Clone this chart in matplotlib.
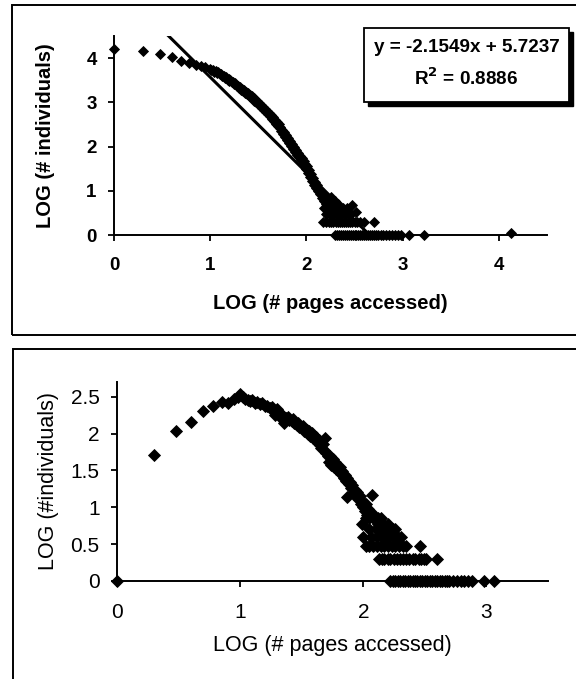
import matplotlib.pyplot as plt
from matplotlib.patches import Rectangle

# Top panel: LOG(# individuals) vs LOG(# pages accessed)
top_x = [0.00, 0.30, 0.48, 0.60, 0.70, 0.78, 0.85, 0.90, 0.95,
         1.00, 1.01, 1.03, 1.04, 1.06, 1.07, 1.08, 1.10, 1.11, 1.12, 1.14, 1.15, 1.16, 1.18, 1.19,
         1.20, 1.21, 1.23, 1.24, 1.25, 1.26, 1.28, 1.29, 1.30, 1.31, 1.32, 1.33, 1.34, 1.35, 1.36,
         1.37, 1.38, 1.39, 1.40, 1.41, 1.42, 1.43, 1.44, 1.45, 1.46, 1.47, 1.48, 1.49, 1.50, 1.51,
         1.52, 1.53, 1.54, 1.55, 1.56, 1.57, 1.58, 1.59, 1.60, 1.61, 1.62, 1.63, 1.64, 1.65, 1.66,
         1.67, 1.68, 1.69, 1.70, 1.71, 1.72, 1.73, 1.74, 1.75, 1.76, 1.77, 1.78, 1.79, 1.80, 1.81,
         1.82, 1.83, 1.84, 1.85, 1.86, 1.87, 1.88, 1.89, 1.90, 1.91, 1.92, 1.93, 1.94, 1.95, 1.96,
         1.97, 1.98, 1.99, 2.00, 2.01, 2.02, 2.03, 2.04, 2.05, 2.06, 2.07, 2.08, 2.09, 2.10, 2.11,
         2.12, 2.13, 2.14, 2.15, 2.16, 2.17, 2.18, 2.19, 2.20,
         2.18, 2.20, 2.21, 2.22, 2.23, 2.24, 2.25, 2.26, 2.27, 2.28, 2.29, 2.30, 2.31, 2.32, 2.33,
         2.34, 2.35, 2.36, 2.38, 2.40, 2.42, 2.44, 2.46, 2.47, 2.52,
         2.17, 2.20, 2.23, 2.26, 2.28, 2.31, 2.33, 2.35, 2.37, 2.39, 2.41, 2.43, 2.45, 2.47, 2.50,
         2.53, 2.56, 2.60, 2.70,
         2.30, 2.32, 2.34, 2.36, 2.38, 2.40, 2.42, 2.44, 2.46, 2.48, 2.50, 2.52, 2.54, 2.56, 2.58,
         2.60, 2.62, 2.64, 2.66, 2.68, 2.70, 2.72, 2.74, 2.77, 2.80, 2.83, 2.86, 2.89, 2.92, 2.95,
         2.98, 3.07, 3.22, 4.13]
top_y = [4.20, 4.17, 4.10, 4.03, 3.93, 3.88, 3.85, 3.82, 3.79,
         3.76, 3.73, 3.72, 3.69, 3.70, 3.66, 3.68, 3.63, 3.65, 3.60, 3.59, 3.55, 3.57, 3.51, 3.53,
         3.48, 3.50, 3.45, 3.46, 3.41, 3.43, 3.37, 3.38, 3.33, 3.35, 3.29, 3.31, 3.25, 3.28, 3.22,
         3.24, 3.18, 3.21, 3.15, 3.17, 3.11, 3.14, 3.07, 3.10, 3.04, 3.06, 3.00, 3.03, 2.96, 2.98,
         2.92, 2.94, 2.87, 2.90, 2.83, 2.85, 2.78, 2.81, 2.73, 2.76, 2.69, 2.71, 2.63, 2.66, 2.58,
         2.61, 2.52, 2.55, 2.46, 2.50, 2.41, 2.44, 2.35, 2.38, 2.29, 2.32, 2.22, 2.26, 2.15, 2.19,
         2.08, 2.12, 2.01, 2.05, 1.94, 1.98, 1.88, 1.92, 1.82, 1.86, 1.76, 1.79, 1.70, 1.74, 1.63,
         1.67, 1.57, 1.61, 1.49, 1.55, 1.40, 1.46, 1.31, 1.38, 1.22, 1.29, 1.14, 1.20, 1.07, 1.12,
         1.00, 1.04, 0.92, 0.97, 0.84, 0.90, 0.77, 0.81, 0.70,
         0.60, 0.48, 0.78, 0.60, 0.70, 0.48, 0.85, 0.60, 0.70, 0.48, 0.60, 0.78, 0.48, 0.60, 0.70,
         0.48, 0.60, 0.48, 0.60, 0.48, 0.60, 0.48, 0.48, 0.67, 0.52,
         0.30, 0.30, 0.30, 0.30, 0.30, 0.30, 0.30, 0.30, 0.30, 0.30, 0.30, 0.30, 0.30, 0.30, 0.30,
         0.30, 0.30, 0.30, 0.30,
         0.00, 0.00, 0.00, 0.00, 0.00, 0.00, 0.00, 0.00, 0.00, 0.00, 0.00, 0.00, 0.00, 0.00, 0.00,
         0.00, 0.00, 0.00, 0.00, 0.00, 0.00, 0.00, 0.00, 0.00, 0.00, 0.00, 0.00, 0.00, 0.00, 0.00,
         0.00, 0.00, 0.00, 0.04]

trend_slope = -2.1549
trend_intercept = 5.7237
trend_r2 = 0.8886

# Bottom panel
bot_x = [0.00, 0.30, 0.48, 0.60, 0.70, 0.78, 0.85, 0.90, 0.95, 0.98, 1.00,
         1.02, 1.04, 1.06, 1.08, 1.10, 1.12, 1.14, 1.16, 1.18, 1.20, 1.22, 1.24, 1.26, 1.27, 1.28,
         1.30, 1.31, 1.33, 1.34, 1.35, 1.36, 1.37, 1.39, 1.40, 1.42, 1.43, 1.44, 1.46, 1.47, 1.48,
         1.50, 1.51, 1.52, 1.54, 1.55, 1.56, 1.57, 1.58, 1.59, 1.60, 1.61, 1.62, 1.63, 1.64, 1.65,
         1.66, 1.67, 1.68, 1.69, 1.70, 1.71, 1.72, 1.73, 1.74, 1.75, 1.76, 1.77, 1.78, 1.79, 1.80,
         1.81, 1.82, 1.83, 1.84, 1.85, 1.86, 1.87, 1.88, 1.89, 1.90, 1.91, 1.92, 1.87, 1.93, 1.94,
         1.95, 1.96, 1.97, 1.98, 1.99, 2.00, 2.01, 2.02, 2.03, 2.04, 2.05, 2.07, 2.06, 2.08, 2.10,
         2.12, 2.14, 2.16, 2.18, 2.20, 2.22, 2.24,
         2.02, 2.08, 2.12, 1.99,
         2.05, 2.10, 2.14, 2.19, 2.22, 2.26,
         2.00, 2.06, 2.11, 2.15, 2.18, 2.21, 2.25, 2.28, 2.31,
         2.02, 2.05, 2.08, 2.11, 2.14, 2.17, 2.20, 2.23, 2.26, 2.29, 2.32, 2.35, 2.46,
         2.13, 2.15, 2.17, 2.20, 2.22, 2.25, 2.27, 2.30, 2.32, 2.35, 2.37, 2.40, 2.42, 2.45, 2.47,
         2.49, 2.51, 2.60,
         2.22, 2.24, 2.26, 2.28, 2.30, 2.32, 2.34, 2.36, 2.38, 2.40, 2.42, 2.44, 2.46, 2.48, 2.50,
         2.52, 2.54, 2.56, 2.58, 2.60, 2.62, 2.64, 2.66, 2.68, 2.70, 2.73, 2.76, 2.79, 2.82, 2.85,
         2.88, 2.98, 3.06]
bot_y = [0.00, 1.71, 2.03, 2.16, 2.31, 2.38, 2.43, 2.41, 2.47, 2.50, 2.54,
         2.50, 2.47, 2.46, 2.44, 2.45, 2.42, 2.43, 2.40, 2.41, 2.38, 2.37, 2.35, 2.36, 2.32, 2.25,
         2.33, 2.29, 2.26, 2.20, 2.24, 2.15, 2.21, 2.22, 2.19, 2.17, 2.20, 2.14, 2.12, 2.15, 2.09,
         2.07, 2.10, 2.03, 2.05, 2.00, 2.04, 1.97, 2.01, 1.94, 1.97, 1.91, 1.95, 1.87, 1.91, 1.84,
         1.80, 1.86, 1.78, 1.94, 1.74, 1.69, 1.62, 1.70, 1.58, 1.66, 1.55, 1.62, 1.52, 1.57, 1.49,
         1.54, 1.45, 1.49, 1.40, 1.44, 1.36, 1.40, 1.31, 1.35, 1.26, 1.30, 1.20, 1.14, 1.24, 1.16,
         1.21, 1.11, 1.15, 1.05, 1.09, 1.00, 0.95, 1.04, 0.90, 0.98, 0.85, 1.17, 0.93, 0.90, 0.85,
         0.78, 0.85, 0.78, 0.70, 0.78, 0.70, 0.70,
         0.85, 0.85, 0.85, 0.78,
         0.70, 0.70, 0.70, 0.70, 0.70, 0.70,
         0.60, 0.60, 0.60, 0.60, 0.60, 0.60, 0.60, 0.60, 0.60,
         0.48, 0.48, 0.48, 0.48, 0.48, 0.48, 0.48, 0.48, 0.48, 0.48, 0.48, 0.48, 0.48,
         0.30, 0.30, 0.30, 0.30, 0.30, 0.30, 0.30, 0.30, 0.30, 0.30, 0.30, 0.30, 0.30, 0.30, 0.30,
         0.30, 0.30, 0.30,
         0.00, 0.00, 0.00, 0.00, 0.00, 0.00, 0.00, 0.00, 0.00, 0.00, 0.00, 0.00, 0.00, 0.00, 0.00,
         0.00, 0.00, 0.00, 0.00, 0.00, 0.00, 0.00, 0.00, 0.00, 0.00, 0.00, 0.00, 0.00, 0.00, 0.00,
         0.00, 0.00, 0.00]

W, H = 576, 679


def fig_rect(left, top, right, bottom):
    # pixel box -> figure fraction [x, y, w, h]
    return [left / W, 1 - bottom / H, (right - left) / W, (bottom - top) / H]


def style_axes(ax, weight, size):
    for side in ("top", "right"):
        ax.spines[side].set_visible(False)
    for side in ("left", "bottom"):
        ax.spines[side].set_linewidth(1.4)
    ax.tick_params(direction="out", length=4.5, width=1.3, labelsize=size)
    ax.tick_params(axis="y", pad=8)
    ax.tick_params(axis="x", pad=11)
    for lab in ax.get_xticklabels() + ax.get_yticklabels():
        lab.set_fontweight(weight)
    ax.set_facecolor("none")


plt.rcParams["font.family"] = ["Liberation Sans", "DejaVu Sans"]
fig = plt.figure(figsize=(W / 100, H / 100), dpi=100)

# panel frames
fig.patches.append(Rectangle((12 / W, 1 - 335 / H), 1.0, (335 - 5) / H, transform=fig.transFigure,
                             fill=False, edgecolor="black", linewidth=1.4))
fig.patches.append(Rectangle((13 / W, -0.05), 1.0, 0.05 + (679 - 349) / H, transform=fig.transFigure,
                             fill=False, edgecolor="black", linewidth=1.4))

# top chart
ax1 = fig.add_axes(fig_rect(114, 36, 547, 235))
ax1.plot(top_x, top_y, "D", color="black", markersize=5.6, markeredgewidth=0.6, clip_on=False)
fit_x = [min(top_x), max(top_x)]
fit_y = [trend_slope * v + trend_intercept for v in fit_x]
ax1.plot(fit_x, fit_y, color="black", linewidth=2.2)
ax1.set_xlim(0, 4.5)
ax1.set_ylim(0, 4.5)
ax1.set_xticks([0, 1, 2, 3, 4])
ax1.set_yticks([0, 1, 2, 3, 4])
style_axes(ax1, "bold", 13.5)
ax1.set_xlabel("LOG (# pages accessed)", fontsize=14.5, fontweight="bold")
ax1.set_ylabel("LOG (# individuals)", fontsize=14.5, fontweight="bold")
ax1.xaxis.set_label_coords(0.5, -0.342)
ax1.xaxis.label.set_va("center")
ax1.yaxis.set_label_coords(-0.159, 0.5)
ax1.yaxis.label.set_va("center")

# equation box with drop shadow
bx, by, bw, bh = fig_rect(364, 28, 569, 102)
fig.patches.append(Rectangle((bx + 4 / W, by - 4 / H), bw, bh, transform=fig.transFigure,
                             facecolor="black", edgecolor="black"))
fig.patches.append(Rectangle((bx, by), bw, bh, transform=fig.transFigure,
                             facecolor="white", edgecolor="black", linewidth=1.3))
fig.text(bx + bw / 2, 1 - 48 / H, f"y = {trend_slope:.4f}x + {trend_intercept:.4f}",
         ha="center", va="center", fontsize=13.6, fontweight="bold")
fig.text(bx + bw / 2, 1 - 78 / H, f"R$^{{\\mathbf{{2}}}}$ = {trend_r2:.4f}",
         ha="center", va="center", fontsize=13.6, fontweight="bold")

# bottom chart
ax2 = fig.add_axes(fig_rect(117, 382, 548, 581))
ax2.plot(bot_x, bot_y, "D", color="black", markersize=6.0, markeredgewidth=0.6, clip_on=False)
ax2.set_xlim(0, 3.5)
ax2.set_ylim(0, 2.7)
ax2.set_xticks([0, 1, 2, 3])
ax2.set_yticks([0, 0.5, 1, 1.5, 2, 2.5])
ax2.set_yticklabels(["0", "0.5", "1", "1.5", "2", "2.5"])
style_axes(ax2, "normal", 15)
ax2.set_xlabel("LOG (# pages accessed)", fontsize=15.5)
ax2.set_ylabel("LOG (#individuals)", fontsize=15.5)
ax2.xaxis.set_label_coords(0.5, -0.322)
ax2.xaxis.label.set_va("center")
ax2.yaxis.set_label_coords(-0.160, 0.5)
ax2.yaxis.label.set_va("center")

fig.savefig("out.png", dpi=100)
